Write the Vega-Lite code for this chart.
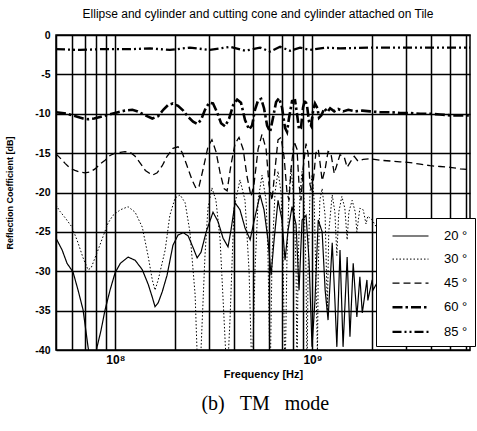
{
 "$schema": "https://vega.github.io/schema/vega-lite/v6.json",
 "padding": {"left": 5, "top": 7, "right": 0, "bottom": 0},
 "background": "white",
 "title": {"text": "(b)\u00a0\u00a0\u00a0TM\u00a0\u00a0\u00a0mode", "orient": "bottom", "anchor": "middle", "font": "Liberation Serif", "fontSize": 20, "fontWeight": "normal", "color": "black", "offset": 14, "dx": 25},
 "config": {
  "view": {"stroke": "black", "strokeWidth": 1.5},
  "axis": {"gridColor": "black", "gridOpacity": 1, "gridWidth": 1.5, "ticks": false, "domain": false, "labelFont": "Liberation Sans", "labelColor": "black", "titleFont": "Liberation Sans", "titleColor": "black", "labelFlush": false},
  "font": "Liberation Sans"
 },
 "vconcat": [
  {
   "title": {"text": "Ellipse and cylinder and cutting cone and cylinder attached on Tile", "anchor": "middle", "frame": "group", "font": "Liberation Sans", "fontSize": 12, "fontWeight": "normal", "color": "black", "offset": 9, "dx": -5},
   "width": 414,
   "height": 315,
   "data": {"values": [
{"s":"20 °","f":5.00e7,"dB":-25.8},{"s":"20 °","f":5.37e7,"dB":-27.3},{"s":"20 °","f":5.69e7,"dB":-29.0},{"s":"20 °","f":6.10e7,"dB":-30.1},{"s":"20 °","f":6.47e7,"dB":-32.4},{"s":"20 °","f":6.86e7,"dB":-34.9},{"s":"20 °","f":7.27e7,"dB":-39.6},{"s":"20 °","f":7.53e7,"dB":-42},{"s":"20 °","f":7.80e7,"dB":-42},{"s":"20 °","f":8.08e7,"dB":-39.6},{"s":"20 °","f":8.46e7,"dB":-37.5},{"s":"20 °","f":8.87e7,"dB":-34.9},{"s":"20 °","f":9.40e7,"dB":-32.4},{"s":"20 °","f":9.97e7,"dB":-30.2},{"s":"20 °","f":1.06e8,"dB":-29.0},{"s":"20 °","f":1.16e8,"dB":-28.2},{"s":"20 °","f":1.26e8,"dB":-28.6},{"s":"20 °","f":1.37e8,"dB":-29.8},{"s":"20 °","f":1.47e8,"dB":-31.7},{"s":"20 °","f":1.54e8,"dB":-33.3},{"s":"20 °","f":1.59e8,"dB":-34.5},{"s":"20 °","f":1.65e8,"dB":-34.0},{"s":"20 °","f":1.73e8,"dB":-32.6},{"s":"20 °","f":1.83e8,"dB":-30.5},{"s":"20 °","f":1.96e8,"dB":-26.7},{"s":"20 °","f":2.08e8,"dB":-25.4},{"s":"20 °","f":2.21e8,"dB":-25.1},{"s":"20 °","f":2.34e8,"dB":-25.5},{"s":"20 °","f":2.48e8,"dB":-27.0},{"s":"20 °","f":2.60e8,"dB":-28.3},{"s":"20 °","f":2.72e8,"dB":-27.6},{"s":"20 °","f":2.89e8,"dB":-25.0},{"s":"20 °","f":3.13e8,"dB":-22.5},{"s":"20 °","f":3.32e8,"dB":-23.7},{"s":"20 °","f":3.52e8,"dB":-25.8},{"s":"20 °","f":3.73e8,"dB":-26.9},{"s":"20 °","f":3.86e8,"dB":-24.8},{"s":"20 °","f":4.05e8,"dB":-21.3},{"s":"20 °","f":4.29e8,"dB":-22.2},{"s":"20 °","f":4.55e8,"dB":-24.5},{"s":"20 °","f":4.83e8,"dB":-26.0},{"s":"20 °","f":5.05e8,"dB":-23.7},{"s":"20 °","f":5.42e8,"dB":-20.3},{"s":"20 °","f":5.68e8,"dB":-22.2},{"s":"20 °","f":5.95e8,"dB":-26.0},{"s":"20 °","f":6.17e8,"dB":-30.5},{"s":"20 °","f":6.39e8,"dB":-26.0},{"s":"20 °","f":6.69e8,"dB":-21.0},{"s":"20 °","f":7.01e8,"dB":-23.5},{"s":"20 °","f":7.26e8,"dB":-28.6},{"s":"20 °","f":7.52e8,"dB":-24.8},{"s":"20 °","f":7.88e8,"dB":-21.8},{"s":"20 °","f":8.26e8,"dB":-24.1},{"s":"20 °","f":8.55e8,"dB":-32.4},{"s":"20 °","f":8.86e8,"dB":-23.5},{"s":"20 °","f":9.28e8,"dB":-22.9},{"s":"20 °","f":9.61e8,"dB":-28.6},{"s":"20 °","f":9.95e8,"dB":-39.6},{"s":"20 °","f":1.03e9,"dB":-33.7},{"s":"20 °","f":1.07e9,"dB":-23.5},{"s":"20 °","f":1.12e9,"dB":-25.0},{"s":"20 °","f":1.16e9,"dB":-32.4},{"s":"20 °","f":1.20e9,"dB":-36.2},{"s":"20 °","f":1.26e9,"dB":-26.4},{"s":"20 °","f":1.30e9,"dB":-33.7},{"s":"20 °","f":1.33e9,"dB":-39.6},{"s":"20 °","f":1.38e9,"dB":-27.3},{"s":"20 °","f":1.43e9,"dB":-39.6},{"s":"20 °","f":1.50e9,"dB":-28.2},{"s":"20 °","f":1.55e9,"dB":-38.3},{"s":"20 °","f":1.61e9,"dB":-29.0},{"s":"20 °","f":1.68e9,"dB":-35.8},{"s":"20 °","f":1.74e9,"dB":-30.7},{"s":"20 °","f":1.79e9,"dB":-35.3},{"s":"20 °","f":1.89e9,"dB":-31.1},{"s":"20 °","f":1.91e9,"dB":-33.7},{"s":"20 °","f":2.01e9,"dB":-31.1},{"s":"20 °","f":2.03e9,"dB":-32.4},{"s":"20 °","f":2.10e9,"dB":-31.7},{"s":"20 °","f":2.20e9,"dB":-33.0},{"s":"20 °","f":2.48e9,"dB":-32.0},{"s":"20 °","f":2.78e9,"dB":-33.5},{"s":"20 °","f":3.52e9,"dB":-33.0},{"s":"20 °","f":4.44e9,"dB":-34.0},{"s":"20 °","f":6.30e9,"dB":-34.0},
{"s":"30 °","f":5.00e7,"dB":-21.6},{"s":"30 °","f":5.24e7,"dB":-22.4},{"s":"30 °","f":5.56e7,"dB":-23.2},{"s":"30 °","f":6.03e7,"dB":-24.4},{"s":"30 °","f":6.47e7,"dB":-26.4},{"s":"30 °","f":6.86e7,"dB":-28.3},{"s":"30 °","f":7.27e7,"dB":-29.8},{"s":"30 °","f":7.53e7,"dB":-29.6},{"s":"30 °","f":8.17e7,"dB":-27.3},{"s":"30 °","f":9.18e7,"dB":-23.9},{"s":"30 °","f":9.73e7,"dB":-22.9},{"s":"30 °","f":1.06e8,"dB":-22.2},{"s":"30 °","f":1.16e8,"dB":-21.8},{"s":"30 °","f":1.26e8,"dB":-22.5},{"s":"30 °","f":1.37e8,"dB":-24.4},{"s":"30 °","f":1.47e8,"dB":-28.2},{"s":"30 °","f":1.54e8,"dB":-31.1},{"s":"30 °","f":1.59e8,"dB":-32.4},{"s":"30 °","f":1.65e8,"dB":-31.1},{"s":"30 °","f":1.79e8,"dB":-27.3},{"s":"30 °","f":1.89e8,"dB":-22.9},{"s":"30 °","f":2.01e8,"dB":-20.7},{"s":"30 °","f":2.13e8,"dB":-20.3},{"s":"30 °","f":2.26e8,"dB":-21.3},{"s":"30 °","f":2.39e8,"dB":-25.0},{"s":"30 °","f":2.54e8,"dB":-33.0},{"s":"30 °","f":2.60e8,"dB":-40.5},{"s":"30 °","f":2.66e8,"dB":-44},{"s":"30 °","f":2.72e8,"dB":-40},{"s":"30 °","f":2.85e8,"dB":-28},{"s":"30 °","f":2.95e8,"dB":-22},{"s":"30 °","f":3.09e8,"dB":-19.4},{"s":"30 °","f":3.24e8,"dB":-21},{"s":"30 °","f":3.40e8,"dB":-26},{"s":"30 °","f":3.56e8,"dB":-36},{"s":"30 °","f":3.69e8,"dB":-44},{"s":"30 °","f":3.82e8,"dB":-36},{"s":"30 °","f":4.00e8,"dB":-22},{"s":"30 °","f":4.29e8,"dB":-18.4},{"s":"30 °","f":4.55e8,"dB":-21},{"s":"30 °","f":4.77e8,"dB":-30},{"s":"30 °","f":4.94e8,"dB":-44},{"s":"30 °","f":5.11e8,"dB":-30},{"s":"30 °","f":5.30e8,"dB":-21},{"s":"30 °","f":5.55e8,"dB":-17.8},{"s":"30 °","f":5.82e8,"dB":-21},{"s":"30 °","f":5.95e8,"dB":-28},{"s":"30 °","f":6.10e8,"dB":-44},{"s":"30 °","f":6.24e8,"dB":-28},{"s":"30 °","f":6.46e8,"dB":-20},{"s":"30 °","f":6.69e8,"dB":-17.3},{"s":"30 °","f":6.93e8,"dB":-20},{"s":"30 °","f":7.09e8,"dB":-28},{"s":"30 °","f":7.26e8,"dB":-44},{"s":"30 °","f":7.43e8,"dB":-28},{"s":"30 °","f":7.61e8,"dB":-20},{"s":"30 °","f":7.79e8,"dB":-17.0},{"s":"30 °","f":8.07e8,"dB":-21},{"s":"30 °","f":8.26e8,"dB":-30},{"s":"30 °","f":8.35e8,"dB":-44},{"s":"30 °","f":8.45e8,"dB":-30},{"s":"30 °","f":8.65e8,"dB":-20},{"s":"30 °","f":8.86e8,"dB":-17.3},{"s":"30 °","f":9.07e8,"dB":-21},{"s":"30 °","f":9.28e8,"dB":-30},{"s":"30 °","f":9.39e8,"dB":-44},{"s":"30 °","f":9.50e8,"dB":-30},{"s":"30 °","f":9.72e8,"dB":-20},{"s":"30 °","f":9.95e8,"dB":-17.8},{"s":"30 °","f":1.02e9,"dB":-21},{"s":"30 °","f":1.04e9,"dB":-30},{"s":"30 °","f":1.06e9,"dB":-40.5},{"s":"30 °","f":1.07e9,"dB":-30},{"s":"30 °","f":1.09e9,"dB":-21},{"s":"30 °","f":1.12e9,"dB":-19.5},{"s":"30 °","f":1.16e9,"dB":-23},{"s":"30 °","f":1.19e9,"dB":-35},{"s":"30 °","f":1.21e9,"dB":-25},{"s":"30 °","f":1.26e9,"dB":-20.3},{"s":"30 °","f":1.30e9,"dB":-22.5},{"s":"30 °","f":1.33e9,"dB":-28},{"s":"30 °","f":1.36e9,"dB":-22.5},{"s":"30 °","f":1.41e9,"dB":-20.5},{"s":"30 °","f":1.46e9,"dB":-22},{"s":"30 °","f":1.50e9,"dB":-26},{"s":"30 °","f":1.53e9,"dB":-22.5},{"s":"30 °","f":1.59e9,"dB":-21},{"s":"30 °","f":1.65e9,"dB":-22.5},{"s":"30 °","f":1.68e9,"dB":-25},{"s":"30 °","f":1.74e9,"dB":-22},{"s":"30 °","f":1.81e9,"dB":-22.2},{"s":"30 °","f":1.87e9,"dB":-24},{"s":"30 °","f":1.91e9,"dB":-23},{"s":"30 °","f":2.01e9,"dB":-23.5},{"s":"30 °","f":2.10e9,"dB":-24.3},{"s":"30 °","f":2.20e9,"dB":-24.5},{"s":"30 °","f":2.78e9,"dB":-25},{"s":"30 °","f":4.44e9,"dB":-25.5},{"s":"30 °","f":6.30e9,"dB":-26},
{"s":"45 °","f":5.00e7,"dB":-15.1},{"s":"45 °","f":5.24e7,"dB":-15.6},{"s":"45 °","f":5.56e7,"dB":-16.3},{"s":"45 °","f":5.89e7,"dB":-16.9},{"s":"45 °","f":6.24e7,"dB":-17.2},{"s":"45 °","f":6.62e7,"dB":-17.4},{"s":"45 °","f":7.02e7,"dB":-17.5},{"s":"45 °","f":7.44e7,"dB":-17.4},{"s":"45 °","f":7.89e7,"dB":-17.0},{"s":"45 °","f":8.36e7,"dB":-16.4},{"s":"45 °","f":8.87e7,"dB":-15.9},{"s":"45 °","f":9.40e7,"dB":-15.3},{"s":"45 °","f":9.97e7,"dB":-15.0},{"s":"45 °","f":1.06e8,"dB":-14.9},{"s":"45 °","f":1.12e8,"dB":-14.8},{"s":"45 °","f":1.19e8,"dB":-14.9},{"s":"45 °","f":1.26e8,"dB":-15.4},{"s":"45 °","f":1.34e8,"dB":-16.3},{"s":"45 °","f":1.42e8,"dB":-17.2},{"s":"45 °","f":1.54e8,"dB":-17.8},{"s":"45 °","f":1.63e8,"dB":-17.5},{"s":"45 °","f":1.73e8,"dB":-16.6},{"s":"45 °","f":1.83e8,"dB":-15.4},{"s":"45 °","f":1.96e8,"dB":-14.4},{"s":"45 °","f":2.08e8,"dB":-14.2},{"s":"45 °","f":2.18e8,"dB":-14.9},{"s":"45 °","f":2.31e8,"dB":-16.6},{"s":"45 °","f":2.45e8,"dB":-18.4},{"s":"45 °","f":2.57e8,"dB":-19.5},{"s":"45 °","f":2.66e8,"dB":-19.2},{"s":"45 °","f":2.79e8,"dB":-17.0},{"s":"45 °","f":2.95e8,"dB":-14.2},{"s":"45 °","f":3.09e8,"dB":-13.3},{"s":"45 °","f":3.24e8,"dB":-14.8},{"s":"45 °","f":3.40e8,"dB":-17.5},{"s":"45 °","f":3.56e8,"dB":-19.5},{"s":"45 °","f":3.69e8,"dB":-19.8},{"s":"45 °","f":3.86e8,"dB":-16.5},{"s":"45 °","f":4.05e8,"dB":-13.8},{"s":"45 °","f":4.24e8,"dB":-13.0},{"s":"45 °","f":4.45e8,"dB":-14.5},{"s":"45 °","f":4.66e8,"dB":-18},{"s":"45 °","f":4.88e8,"dB":-20.5},{"s":"45 °","f":5.05e8,"dB":-19},{"s":"45 °","f":5.30e8,"dB":-14.5},{"s":"45 °","f":5.55e8,"dB":-12.6},{"s":"45 °","f":5.82e8,"dB":-14.5},{"s":"45 °","f":6.02e8,"dB":-19},{"s":"45 °","f":6.24e8,"dB":-21},{"s":"45 °","f":6.46e8,"dB":-17},{"s":"45 °","f":6.69e8,"dB":-13.3},{"s":"45 °","f":6.93e8,"dB":-13.0},{"s":"45 °","f":7.18e8,"dB":-15.5},{"s":"45 °","f":7.43e8,"dB":-20},{"s":"45 °","f":7.61e8,"dB":-21},{"s":"45 °","f":7.79e8,"dB":-17},{"s":"45 °","f":8.07e8,"dB":-13.5},{"s":"45 °","f":8.35e8,"dB":-14.5},{"s":"45 °","f":8.55e8,"dB":-19},{"s":"45 °","f":8.75e8,"dB":-21},{"s":"45 °","f":8.96e8,"dB":-17},{"s":"45 °","f":9.28e8,"dB":-13.8},{"s":"45 °","f":9.50e8,"dB":-15},{"s":"45 °","f":9.72e8,"dB":-19},{"s":"45 °","f":9.95e8,"dB":-20},{"s":"45 °","f":1.02e9,"dB":-17.5},{"s":"45 °","f":1.04e9,"dB":-15},{"s":"45 °","f":1.07e9,"dB":-14.5},{"s":"45 °","f":1.09e9,"dB":-16},{"s":"45 °","f":1.12e9,"dB":-18.5},{"s":"45 °","f":1.16e9,"dB":-17},{"s":"45 °","f":1.20e9,"dB":-14.8},{"s":"45 °","f":1.24e9,"dB":-15},{"s":"45 °","f":1.29e9,"dB":-17.6},{"s":"45 °","f":1.33e9,"dB":-16.5},{"s":"45 °","f":1.38e9,"dB":-15.2},{"s":"45 °","f":1.45e9,"dB":-15.5},{"s":"45 °","f":1.50e9,"dB":-16.8},{"s":"45 °","f":1.55e9,"dB":-16.2},{"s":"45 °","f":1.63e9,"dB":-15.4},{"s":"45 °","f":1.70e9,"dB":-16.0},{"s":"45 °","f":1.81e9,"dB":-15.8},{"s":"45 °","f":1.96e9,"dB":-15.7},{"s":"45 °","f":2.20e9,"dB":-15.9},{"s":"45 °","f":2.48e9,"dB":-16.0},{"s":"45 °","f":2.78e9,"dB":-16.1},{"s":"45 °","f":3.13e9,"dB":-16.2},{"s":"45 °","f":3.52e9,"dB":-16.4},{"s":"45 °","f":3.95e9,"dB":-16.6},{"s":"45 °","f":4.44e9,"dB":-16.7},{"s":"45 °","f":4.99e9,"dB":-16.8},{"s":"45 °","f":5.61e9,"dB":-17.0},{"s":"45 °","f":6.30e9,"dB":-17.1},
{"s":"60 °","f":5.00e7,"dB":-9.8},{"s":"60 °","f":5.37e7,"dB":-9.9},{"s":"60 °","f":5.69e7,"dB":-10.0},{"s":"60 °","f":6.03e7,"dB":-10.2},{"s":"60 °","f":6.47e7,"dB":-10.4},{"s":"60 °","f":6.86e7,"dB":-10.6},{"s":"60 °","f":7.27e7,"dB":-10.7},{"s":"60 °","f":7.80e7,"dB":-10.6},{"s":"60 °","f":8.36e7,"dB":-10.4},{"s":"60 °","f":8.97e7,"dB":-10.2},{"s":"60 °","f":9.62e7,"dB":-10.0},{"s":"60 °","f":1.03e8,"dB":-9.8},{"s":"60 °","f":1.12e8,"dB":-9.6},{"s":"60 °","f":1.22e8,"dB":-9.5},{"s":"60 °","f":1.30e8,"dB":-9.7},{"s":"60 °","f":1.42e8,"dB":-10.2},{"s":"60 °","f":1.54e8,"dB":-10.6},{"s":"60 °","f":1.65e8,"dB":-10.3},{"s":"60 °","f":1.75e8,"dB":-9.5},{"s":"60 °","f":1.85e8,"dB":-8.9},{"s":"60 °","f":1.96e8,"dB":-8.7},{"s":"60 °","f":2.08e8,"dB":-9.0},{"s":"60 °","f":2.21e8,"dB":-9.6},{"s":"60 °","f":2.34e8,"dB":-10.4},{"s":"60 °","f":2.48e8,"dB":-11.0},{"s":"60 °","f":2.60e8,"dB":-11.3},{"s":"60 °","f":2.72e8,"dB":-10.8},{"s":"60 °","f":2.85e8,"dB":-9.5},{"s":"60 °","f":2.99e8,"dB":-8.6},{"s":"60 °","f":3.13e8,"dB":-8.7},{"s":"60 °","f":3.28e8,"dB":-9.8},{"s":"60 °","f":3.44e8,"dB":-11.2},{"s":"60 °","f":3.60e8,"dB":-11.6},{"s":"60 °","f":3.78e8,"dB":-10.6},{"s":"60 °","f":3.96e8,"dB":-8.9},{"s":"60 °","f":4.15e8,"dB":-8.2},{"s":"60 °","f":4.34e8,"dB":-8.6},{"s":"60 °","f":4.55e8,"dB":-10.8},{"s":"60 °","f":4.77e8,"dB":-12.0},{"s":"60 °","f":4.94e8,"dB":-11.5},{"s":"60 °","f":5.11e8,"dB":-9.5},{"s":"60 °","f":5.30e8,"dB":-8.3},{"s":"60 °","f":5.49e8,"dB":-8.1},{"s":"60 °","f":5.68e8,"dB":-9.3},{"s":"60 °","f":5.89e8,"dB":-11.5},{"s":"60 °","f":6.10e8,"dB":-12.3},{"s":"60 °","f":6.31e8,"dB":-10.5},{"s":"60 °","f":6.54e8,"dB":-8.5},{"s":"60 °","f":6.77e8,"dB":-8.0},{"s":"60 °","f":7.01e8,"dB":-9.2},{"s":"60 °","f":7.26e8,"dB":-11.8},{"s":"60 °","f":7.43e8,"dB":-12.3},{"s":"60 °","f":7.61e8,"dB":-10.5},{"s":"60 °","f":7.88e8,"dB":-8.4},{"s":"60 °","f":8.16e8,"dB":-8.3},{"s":"60 °","f":8.35e8,"dB":-10.0},{"s":"60 °","f":8.55e8,"dB":-12.0},{"s":"60 °","f":8.75e8,"dB":-11.8},{"s":"60 °","f":8.96e8,"dB":-9.2},{"s":"60 °","f":9.17e8,"dB":-8.2},{"s":"60 °","f":9.39e8,"dB":-9.0},{"s":"60 °","f":9.61e8,"dB":-11.0},{"s":"60 °","f":9.84e8,"dB":-11.5},{"s":"60 °","f":1.01e9,"dB":-9.5},{"s":"60 °","f":1.03e9,"dB":-8.7},{"s":"60 °","f":1.06e9,"dB":-9.3},{"s":"60 °","f":1.08e9,"dB":-10.5},{"s":"60 °","f":1.11e9,"dB":-10.2},{"s":"60 °","f":1.15e9,"dB":-9.3},{"s":"60 °","f":1.19e9,"dB":-9.8},{"s":"60 °","f":1.23e9,"dB":-9.3},{"s":"60 °","f":1.29e9,"dB":-9.7},{"s":"60 °","f":1.35e9,"dB":-9.4},{"s":"60 °","f":1.43e9,"dB":-9.7},{"s":"60 °","f":1.52e9,"dB":-9.5},{"s":"60 °","f":1.65e9,"dB":-9.7},{"s":"60 °","f":1.79e9,"dB":-9.6},{"s":"60 °","f":1.96e9,"dB":-9.7},{"s":"60 °","f":2.20e9,"dB":-9.8},{"s":"60 °","f":2.48e9,"dB":-9.8},{"s":"60 °","f":2.78e9,"dB":-9.9},{"s":"60 °","f":3.13e9,"dB":-9.9},{"s":"60 °","f":3.52e9,"dB":-10.0},{"s":"60 °","f":3.95e9,"dB":-10.0},{"s":"60 °","f":4.44e9,"dB":-10.1},{"s":"60 °","f":4.99e9,"dB":-10.2},{"s":"60 °","f":5.61e9,"dB":-10.2},{"s":"60 °","f":6.30e9,"dB":-10.2},
{"s":"85 °","f":5.00e7,"dB":-1.8},{"s":"85 °","f":6.62e7,"dB":-1.9},{"s":"85 °","f":8.36e7,"dB":-1.8},{"s":"85 °","f":1.19e8,"dB":-1.8},{"s":"85 °","f":1.50e8,"dB":-1.7},{"s":"85 °","f":1.89e8,"dB":-1.9},{"s":"85 °","f":2.39e8,"dB":-1.6},{"s":"85 °","f":3.02e8,"dB":-1.9},{"s":"85 °","f":3.82e8,"dB":-1.5},{"s":"85 °","f":4.55e8,"dB":-2.0},{"s":"85 °","f":5.42e8,"dB":-1.6},{"s":"85 °","f":6.10e8,"dB":-2.1},{"s":"85 °","f":6.85e8,"dB":-1.5},{"s":"85 °","f":7.70e8,"dB":-2.0},{"s":"85 °","f":8.65e8,"dB":-1.6},{"s":"85 °","f":9.72e8,"dB":-1.9},{"s":"85 °","f":1.16e9,"dB":-1.6},{"s":"85 °","f":1.38e9,"dB":-1.7},{"s":"85 °","f":1.96e9,"dB":-1.6},{"s":"85 °","f":2.78e9,"dB":-1.6},{"s":"85 °","f":4.44e9,"dB":-1.6},{"s":"85 °","f":6.30e9,"dB":-1.6}
   ]},
   "mark": {"type": "line", "color": "black", "clip": true},
   "encoding": {
    "x": {"field": "f", "type": "quantitative",
      "scale": {"type": "log", "domain": [5e7, 6.3e9], "nice": false},
      "axis": {"values": [5e7,6e7,7e7,8e7,9e7,1e8,2e8,3e8,4e8,5e8,6e8,7e8,8e8,9e8,1e9,2e9,3e9,4e9,5e9,6e9],
        "labelExpr": "datum.value == 1e8 ? '10⁸' : (datum.value == 1e9 ? '10⁹' : '')",
        "labelOverlap": false, "labelFontSize": 12, "labelFontWeight": "bold", "labelPadding": 4,
        "title": "Frequency [Hz]", "titleFontSize": 11, "titleFontWeight": "bold", "titlePadding": 3}},
    "y": {"field": "dB", "type": "quantitative",
      "scale": {"domain": [-40, 0], "nice": false},
      "axis": {"values": [-40,-35,-30,-25,-20,-15,-10,-5,0], "labelExpr": "'' + datum.value",
        "labelFontSize": 10.5, "labelFontWeight": "bold", "labelPadding": 6,
        "title": "Reflection Coefficient [dB]", "titleFontSize": 9, "titleFontWeight": "bold", "titlePadding": 20}},
    "strokeDash": {"field": "s", "type": "ordinal",
      "scale": {"type": "ordinal", "domain": ["20 °","30 °","45 °","60 °","85 °"], "range": [[1,0],[1.5,2],[7,4],[10,3,2.5,3],[9,3,2,3,2,3]]},
      "legend": {"title": null, "orient": "none", "legendX": 320, "legendY": 183, "fillColor": "white", "strokeColor": "black", "padding": 7, "rowPadding": 5.6, "symbolType": "M-0.2,0L3.4,0", "symbolSize": 400, "symbolStrokeColor": "black", "labelFont": "Liberation Sans", "labelFontSize": 13, "labelOffset": 38, "labelColor": "black"}},
    "strokeWidth": {"field": "s", "type": "ordinal",
      "scale": {"type": "ordinal", "domain": ["20 °","30 °","45 °","60 °","85 °"], "range": [1.2, 1, 1.3, 2.6, 2.3]}}
   }
  }
 ]
}
